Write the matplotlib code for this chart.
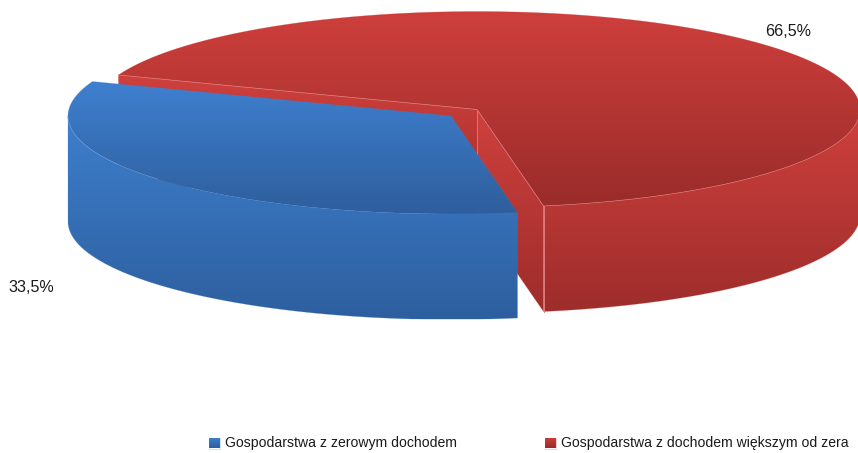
import numpy as np
import matplotlib
matplotlib.use("Agg")
import matplotlib.pyplot as plt
from matplotlib.path import Path
from matplotlib.patches import PathPatch
from matplotlib.colors import LinearSegmentedColormap

categories = ["Gospodarstwa z zerowym dochodem", "Gospodarstwa z dochodem większym od zera"]
values = [33.5, 66.5]

# layout of the projected pie, in pixels
RX, RY, DEPTH = 383.0, 98.0, 105.5
START = -80.0
CENTERS = [(451.0, 116.0), (477.0, 109.5)]
LABEL_POS = [(31, 287), (788, 32)]
LEGEND_BOX_X = [209, 545]
LEGEND_TEXT_X = [225, 561]
LEGEND_Y = 443
TOP_GRAD = [("#3F80D0", "#2E5E9C"), ("#CE3F3C", "#9A2C2A")]
WALL_GRAD = [("#3E7FCD", "#2D5F9F"), ("#CF403D", "#9D2D2B")]
RIM = ["#6E9BD6", "#DC7D7B"]

fig = plt.figure(figsize=(8.58, 4.53), dpi=100)
ax = fig.add_axes([0, 0, 1, 1])
ax.set_xlim(0, 858)
ax.set_ylim(453, 0)
ax.axis("off")


def rim(c, t, dz=0.0):
    t = np.radians(t)
    return np.column_stack([c[0] + RX * np.cos(t), c[1] - RY * np.sin(t) + dz])


def fill(points, colors, z):
    pts = np.asarray(points)
    path = Path(np.vstack([pts, pts[:1]]), closed=True)
    patch = PathPatch(path, fc="none", ec="none", zorder=z)
    ax.add_patch(patch)
    cmap = LinearSegmentedColormap.from_list("g", colors)
    grad = np.linspace(0, 1, 256).reshape(-1, 1)
    y0, y1 = pts[:, 1].min(), pts[:, 1].max()
    x0, x1 = pts[:, 0].min(), pts[:, 0].max()
    im = ax.imshow(grad, cmap=cmap, extent=(x0, x1, y1, y0), aspect="auto",
                   interpolation="bilinear", zorder=z)
    im.set_clip_path(patch)
    ax.plot(np.append(pts[:, 0], pts[0, 0]), np.append(pts[:, 1], pts[0, 1]),
            color=colors[0], lw=0.4, alpha=0.4, zorder=z, solid_joinstyle="round")


total = sum(values)
sweeps = [360.0 * v / total for v in values]
blue_end = START - sweeps[0]
red_end = blue_end - sweeps[1]

# red slice (index 1)
c = CENTERS[1]
apex = np.array([c])
low = np.array([[c[0], c[1] + DEPTH]])
for t in (blue_end, START):
    a = rim(c, t)
    b = rim(c, t, DEPTH)
    fill(np.vstack([apex, a, b, low]), WALL_GRAD[1], 2)
t_wall = np.linspace(START, 0, 200)
fill(np.vstack([rim(c, t_wall), rim(c, t_wall[::-1], DEPTH)]), WALL_GRAD[1], 3)
t_top = np.linspace(blue_end, red_end, 500)
top_pts = np.vstack([apex, rim(c, t_top)])
fill(top_pts, TOP_GRAD[1], 4)
ax.plot(*np.vstack([rim(c, t_wall)]).T, color=RIM[1], lw=0.4, zorder=5)
ax.plot(*np.vstack([rim(c, [START]), apex, rim(c, [blue_end])]).T, color=RIM[1], lw=0.5, zorder=5)
ax.plot(*np.vstack([rim(c, [START]), rim(c, [START], DEPTH)]).T, color=RIM[1], lw=0.7, zorder=5)
ax.plot(*np.vstack([apex, low]).T, color=RIM[1], lw=0.6, zorder=3.5)

# blue slice (index 0)
c = CENTERS[0]
apex = np.array([c])
t_wall = np.linspace(START, -180, 200)
fill(np.vstack([rim(c, t_wall), rim(c, t_wall[::-1], DEPTH)]), WALL_GRAD[0], 6)
t_top = np.linspace(START, blue_end, 300)
fill(np.vstack([apex, rim(c, t_top)]), TOP_GRAD[0], 7)
ax.plot(*rim(c, np.linspace(-180, -140, 50)).T, color=RIM[0], lw=0.4, zorder=8)

ax.set_xlim(0, 858)
ax.set_ylim(453, 0)

font = "Liberation Sans"
for v, (x, y) in zip(values, LABEL_POS):
    ax.text(x, y, f"{v:.1f}%".replace(".", ","), ha="center", va="center",
            fontsize=11.6, family=font, color="#1a1a1a", zorder=10)

for i, name in enumerate(categories):
    fill([(LEGEND_BOX_X[i], LEGEND_Y - 5.5), (LEGEND_BOX_X[i] + 11, LEGEND_Y - 5.5),
          (LEGEND_BOX_X[i] + 11, LEGEND_Y + 5.5), (LEGEND_BOX_X[i], LEGEND_Y + 5.5)],
         TOP_GRAD[i], 10)
    ax.text(LEGEND_TEXT_X[i], LEGEND_Y + 0.5, name, ha="left", va="center",
            fontsize=10.1, family=font, color="#1a1a1a", zorder=10)

fig.savefig("out.png", dpi=100, facecolor="white")
